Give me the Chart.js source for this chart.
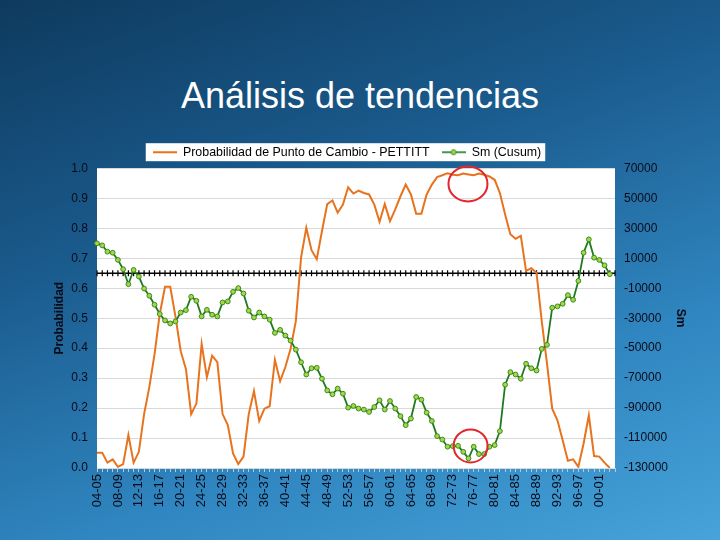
<!DOCTYPE html>
<html>
<head>
<meta charset="utf-8">
<title>Análisis de tendencias</title>
<script src="https://cdn.jsdelivr.net/npm/chart.js@4.4.0/dist/chart.umd.min.js"></script>
<style>
  html, body { margin: 0; padding: 0; }
  body {
    width: 720px; height: 540px; overflow: hidden; position: relative;
    background: linear-gradient(160deg, #0e3a5e 0%, #1a5a8c 35%, #2f85bf 70%, #47a3da 100%);
    font-family: "Liberation Sans", Arial, sans-serif;
  }
  h1 {
    position: absolute; left: 0; top: 74px; width: 720px; margin: 0;
    text-align: center; color: #fff; font-weight: normal; font-size: 36px; line-height: 44px;
  }
  #chart { position: absolute; left: 0; top: 0; }
</style>
</head>
<body>
<h1>Análisis de tendencias</h1>
<canvas id="chart" width="720" height="540"></canvas>

<script>
// seasons 1904-05 .. 2003-04 (last one has no value)
const firstYear = 1904;
const nSeasons = 100;
const seasons = [];
for (let y = firstYear; y < firstYear + nSeasons; y++) {
    seasons.push(String(y % 100).padStart(2, '0') + '-' + String((y + 1) % 100).padStart(2, '0'));
}

// Probabilidad de punto de cambio (Pettitt)
const pettitt = [
    0.051, 0.051, 0.018, 0.029, 0.004, 0.013, 0.110, 0.018, 0.054, 0.180,
    0.270, 0.380, 0.515, 0.605, 0.605, 0.505, 0.390, 0.330, 0.180, 0.215,
    0.414, 0.303, 0.375, 0.353, 0.180, 0.143, 0.049, 0.013, 0.038, 0.180,
    0.257, 0.157, 0.198, 0.206, 0.361, 0.290, 0.337, 0.398, 0.490, 0.702,
    0.802, 0.727, 0.697, 0.791, 0.881, 0.893, 0.852, 0.879, 0.937, 0.916,
    0.926, 0.918, 0.913, 0.879, 0.822, 0.881, 0.824, 0.863, 0.907, 0.946,
    0.913, 0.849, 0.849, 0.913, 0.946, 0.971, 0.977, 0.984, 0.979, 0.977,
    0.983, 0.980, 0.977, 0.983, 0.979, 0.973, 0.962, 0.918, 0.846, 0.780,
    0.765, 0.775, 0.658, 0.667, 0.652, 0.490, 0.349, 0.198, 0.159, 0.093,
    0.024, 0.029, 0.004, 0.082, 0.176, 0.040, 0.038, 0.018, 0.000
];

// Sm (Cusum)
const cusum = [
    20000, 18600, 14400, 13700, 8900, 2700, -7300, 2200, -2200, -10200,
    -15000, -21000, -27200, -31500, -33500, -32100, -26200, -24600, -15700, -18400,
    -28800, -24400, -27700, -28800, -19500, -18800, -12400, -9900, -13500, -25000,
    -29500, -26200, -28800, -31000, -39800, -37800, -41600, -45000, -51000, -59400,
    -67600, -63400, -63100, -70400, -78200, -80800, -77000, -80400, -89700, -88600,
    -90300, -91000, -92600, -89300, -84800, -91000, -85300, -90300, -95400, -101400,
    -97000, -82600, -84400, -93000, -98600, -108700, -111000, -115800, -115400, -115200,
    -119200, -123600, -115800, -120700, -120700, -115800, -114700, -105400, -74400, -66000,
    -67600, -70400, -60400, -63400, -64900, -50500, -47800, -23000, -22100, -20400,
    -14600, -17700, -5100, 13700, 22600, 10400, 8900, 5300, -600
];

// red highlight circles (category position, value, axis)
const ringIndex = [70.9, 71.4];
const ringValue = [0.948, -115300];
const ringAxis = ['yProb', 'ySm'];

Chart.defaults.font.family = '"Liberation Sans", Arial, sans-serif';
Chart.defaults.color = '#0b0b18';

// little legend symbols
function legendSymbol(color, width, withDot) {
    const c = document.createElement('canvas');
    c.width = 24; c.height = 8;
    const g = c.getContext('2d');
    g.strokeStyle = color; g.lineWidth = width;
    g.beginPath(); g.moveTo(0, 4); g.lineTo(24, 4); g.stroke();
    if (withDot) {
        g.fillStyle = '#a5d64a'; g.strokeStyle = '#3c8c1c'; g.lineWidth = 1;
        g.beginPath(); g.arc(12, 4, 2.5, 0, Math.PI * 2); g.fill(); g.stroke();
    }
    return c;
}
const symbols = [legendSymbol('#e8731e', 2, false), legendSymbol('#1f7a1f', 1.6, true)];

const decor = {
    id: 'decor',
    afterLayout(chart) {
        // legend sits a bit left of the plot centre in the original
        chart.legend.left -= 9;
        chart.legend.right -= 9;
    },
    beforeDraw(chart) {
        const ctx = chart.ctx, a = chart.chartArea;
        ctx.save();
        ctx.fillStyle = '#ffffff';
        ctx.fillRect(a.left, a.top, a.right - a.left, a.bottom - a.top);
        const hb = chart.legend.legendHitBoxes;
        if (hb && hb.length) {
            const l = Math.min(...hb.map(h => h.left));
            const r = Math.max(...hb.map(h => h.left + h.width));
            const cy = hb[0].top + hb[0].height / 2;
            ctx.fillRect(l - 7, cy - 9, r - l + 11, 18);
        }
        ctx.restore();
    },
    beforeDatasetsDraw(chart) {
        const ctx = chart.ctx, a = chart.chartArea;
        const x = chart.scales.x, y0 = chart.scales.ySm.getPixelForValue(0);
        ctx.save();
        ctx.strokeStyle = '#000'; ctx.lineWidth = 1.5;
        ctx.beginPath(); ctx.moveTo(a.left, y0); ctx.lineTo(a.right, y0); ctx.stroke();
        ctx.lineWidth = 1.2;
        ctx.beginPath();
        for (let i = 0; i < seasons.length; i++) {
            const px = x.getPixelForValue(i);
            ctx.moveTo(px, y0 - 3); ctx.lineTo(px, y0 + 3);
        }
        ctx.stroke();
        ctx.restore();
    },
    afterDatasetsDraw(chart) {
        const ctx = chart.ctx;
        ctx.save();
        ctx.strokeStyle = '#e3262b'; ctx.lineWidth = 2;
        ringIndex.forEach((idx, k) => {
            const cx = chart.scales.x.getPixelForValue(idx);
            const cy = chart.scales[ringAxis[k]].getPixelForValue(ringValue[k]);
            ctx.beginPath();
            ctx.ellipse(cx, cy, k === 0 ? 19.5 : 17, k === 0 ? 17.5 : 16.5, 0, 0, Math.PI * 2);
            ctx.stroke();
        });
        ctx.restore();
    }
};

new Chart(document.getElementById('chart'), {
    type: 'line',
    data: {
        labels: seasons,
        datasets: [{
            label: 'Probabilidad de Punto de Cambio - PETTITT',
            data: pettitt,
            yAxisID: 'yProb',
            borderColor: '#e8731e',
            borderWidth: 2,
            pointRadius: 0,
            tension: 0,
            order: 2
        }, {
            label: 'Sm (Cusum)',
            data: cusum,
            yAxisID: 'ySm',
            borderColor: '#1f7a1f',
            borderWidth: 1.8,
            pointRadius: 2.4,
            pointBackgroundColor: '#a5d64a',
            pointBorderColor: '#3c8c1c',
            pointBorderWidth: 1,
            tension: 0,
            order: 1
        }]
    },
    options: {
        responsive: false,
        animation: false,
        devicePixelRatio: 1,
        layout: { padding: { top: 134, left: 52, right: 32, bottom: 28 } },
        plugins: {
            tooltip: { enabled: false },
            legend: {
                position: 'top',
                fullSize: false,
                labels: {
                    font: { size: 12.4 },
                    color: '#000',
                    padding: 12,
                    usePointStyle: true,
                    pointStyleWidth: 24,
                    sort: (a, b) => a.datasetIndex - b.datasetIndex,
                    generateLabels(chart) {
                        const items = Chart.defaults.plugins.legend.labels.generateLabels(chart);
                        items.forEach(it => { it.pointStyle = symbols[it.datasetIndex]; });
                        return items;
                    }
                }
            }
        },
        scales: {
            x: {
                type: 'category',
                offset: false,
                border: { display: false },
                grid: { drawOnChartArea: false, drawTicks: true, tickLength: 4, color: '#a8cbe6' },
                ticks: {
                    autoSkip: false, maxRotation: 90, minRotation: 90, padding: 2,
                    font: { size: 13 },
                    callback: (v, i) => (i % 4 === 0 ? seasons[i] : '')
                },
                afterFit(s) { s.height = 44; }
            },
            yProb: {
                position: 'left',
                min: 0, max: 1,
                border: { display: false },
                grid: { color: '#d9d9d9', drawTicks: false },
                ticks: { stepSize: 0.1, padding: 9, font: { size: 12 }, callback: v => v.toFixed(1) },
                title: { display: true, text: 'Probabilidad', font: { size: 12, weight: 'bold' }, padding: 0 },
                afterFit(s) { s.width = 45; }
            },
            ySm: {
                position: 'right',
                min: -130000, max: 70000,
                border: { display: false },
                grid: { drawOnChartArea: false, drawTicks: false },
                ticks: { stepSize: 20000, padding: 9, font: { size: 12 }, callback: v => String(v) },
                title: { display: true, text: 'Sm', font: { size: 12, weight: 'bold' }, padding: 0 },
                afterFit(s) { s.width = 73; }
            }
        }
    },
    plugins: [decor]
});
</script>
</body>
</html>
